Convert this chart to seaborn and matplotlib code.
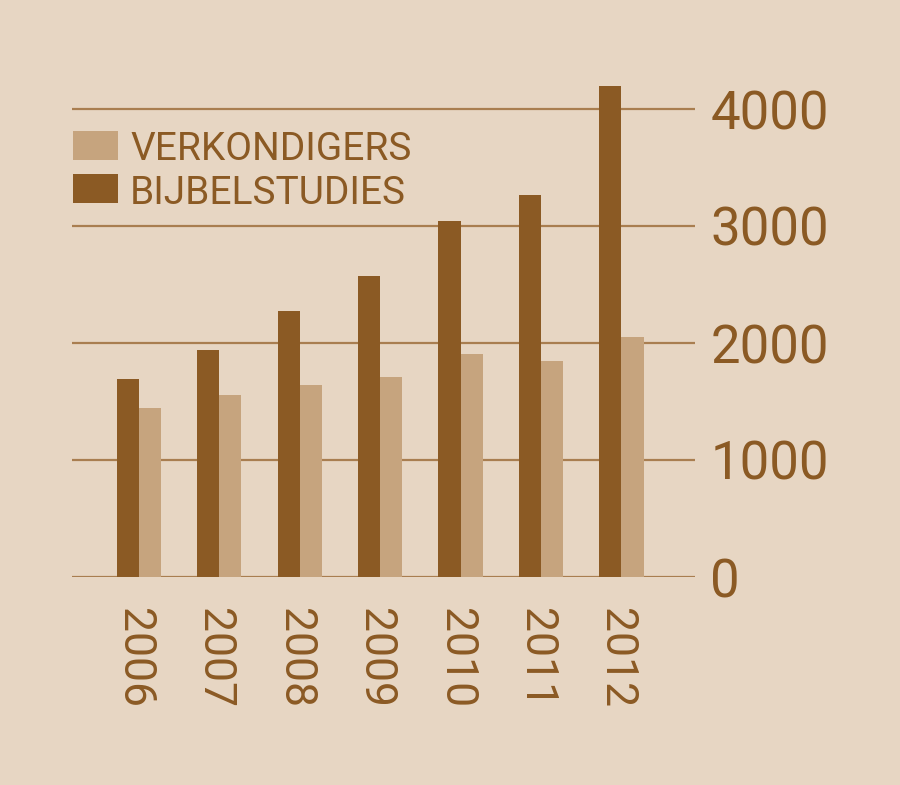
import matplotlib
matplotlib.use("Agg")
import matplotlib.pyplot as plt
from matplotlib.patches import Rectangle
from matplotlib.transforms import ScaledTranslation
import seaborn as sns
import pandas as pd

years = ["2006", "2007", "2008", "2009", "2010", "2011", "2012"]
bijbelstudies = [1690, 1940, 2275, 2575, 3045, 3265, 4200]
verkondigers = [1445, 1555, 1645, 1710, 1905, 1845, 2050]
series_names = ["BIJBELSTUDIES", "VERKONDIGERS"]
yticks = [0, 1000, 2000, 3000, 4000]

BG = "#E7D6C3"
DARK = "#8B5A24"
LIGHT = "#C6A47E"
GRID = "#A97E50"

df = pd.DataFrame({
    "year": years * 2,
    "value": bijbelstudies + verkondigers,
    "series": [series_names[0]] * len(years) + [series_names[1]] * len(years),
})

sns.set_style("white")
plt.rcParams["font.family"] = ["Roboto", "DejaVu Sans"]

W, H = 900, 785
fig = plt.figure(figsize=(W / 100, H / 100), dpi=100, facecolor=BG)
ax = fig.add_axes([72.4 / W, 1 - 577 / H, (695 - 72.4) / W, (577 - 73.9) / H])
ax.set_facecolor(BG)

sns.barplot(data=df, x="year", y="value", hue="series", order=years,
            hue_order=series_names, palette=[DARK, LIGHT], width=0.55,
            gap=0, saturation=1, ax=ax, legend=False, zorder=3)
for p in ax.patches:
    p.set_edgecolor("none")
    p.set_linewidth(0)

ax.set_xlim(-0.828, 6.915)
ax.set_ylim(0, 4300)
ax.set_yticks(yticks)
ax.set_yticklabels([str(v) for v in yticks])
ax.yaxis.tick_right()
ax.tick_params(axis="y", length=0, pad=11, labelsize=38, labelcolor=DARK)
ax.tick_params(axis="x", length=0, pad=22, labelsize=32, labelcolor=DARK)
shift = ScaledTranslation(-5 / 100, 0, fig.dpi_scale_trans)
for lab in ax.get_xticklabels():
    lab.set_rotation(270)
    lab.set_va("top")
    lab.set_ha("center")
    lab.set_transform(lab.get_transform() + shift)
ax.set_xlabel("")
ax.set_ylabel("")
ax.yaxis.grid(True, color=GRID, linewidth=1.6, zorder=0)
ax.xaxis.grid(False)
ax.set_axisbelow(True)
for s in ax.spines.values():
    s.set_visible(False)

# legend drawn manually (pixel coords -> figure coords)
def px_rect(x0, y0, x1, y1, color):
    fig.add_artist(Rectangle((x0 / W, 1 - y1 / H), (x1 - x0) / W, (y1 - y0) / H,
                             transform=fig.transFigure, facecolor=color,
                             edgecolor="none"))

px_rect(72.7, 130.7, 117.5, 159.5, LIGHT)
px_rect(72.7, 174.0, 117.5, 202.7, DARK)
fig.text(130 / W, 1 - 145.5 / H, series_names[1], fontsize=28, color=DARK,
         va="center_baseline", ha="left")
fig.text(130 / W, 1 - 189 / H, series_names[0], fontsize=28, color=DARK,
         va="center_baseline", ha="left")

fig.savefig("out.png", dpi=100, facecolor=BG)
